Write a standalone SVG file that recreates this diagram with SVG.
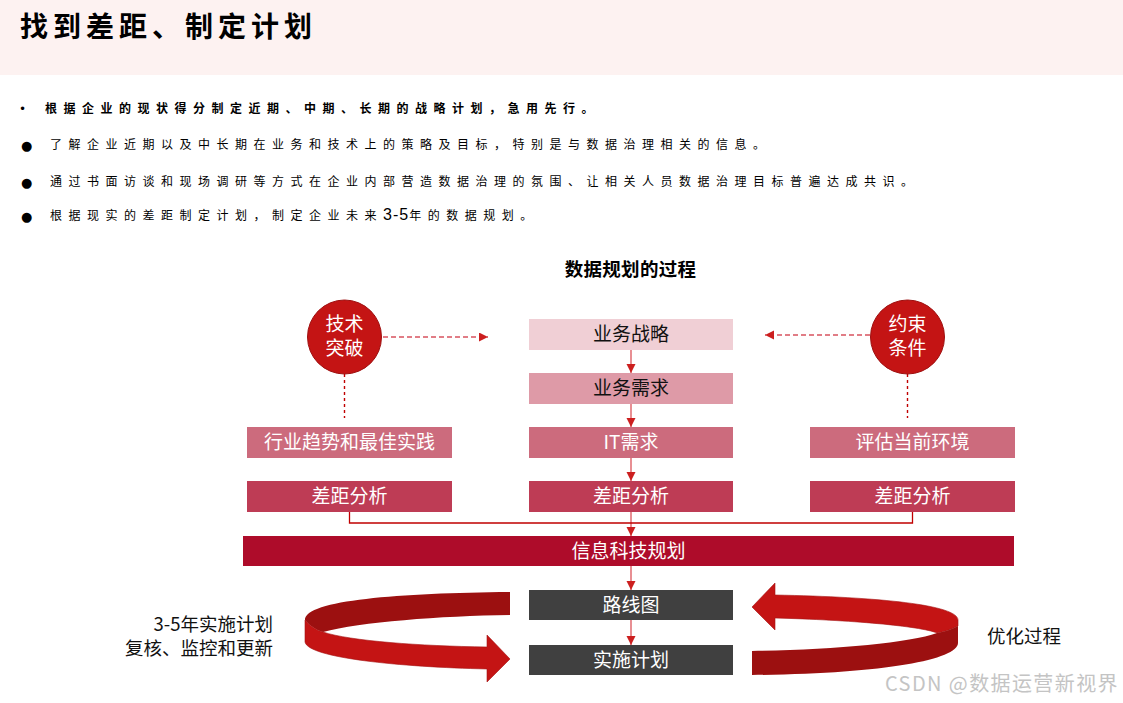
<svg xmlns="http://www.w3.org/2000/svg" width="1123" height="703" viewBox="0 0 1123 703">
<style>
.cjk{font-family:"Noto Sans CJK SC","Liberation Sans",sans-serif}
.bul{font-family:"Noto Sans CJK SC","Liberation Sans",sans-serif;font-size:12px;letter-spacing:6.5px;fill:#000}
.box{font-family:"Noto Sans CJK SC","Liberation Sans",sans-serif;font-size:19px;text-anchor:middle}
.w{fill:#fff}
.k{fill:#111}
.conn{stroke:#e06a6f;stroke-width:1.5;fill:none}
.dashh{stroke:#d8535f;stroke-width:1.5;stroke-dasharray:5,3;fill:none}
.dashv{stroke:#c00000;stroke-width:1.4;stroke-dasharray:3,3;fill:none}
.circ{fill:#c41414;stroke:#9e1010;stroke-width:1}
</style>
<defs>
<marker id="ah" markerUnits="userSpaceOnUse" markerWidth="10" markerHeight="10" refX="9" refY="4.5" orient="auto">
<path d="M0,0 L9,4.5 L0,9 Z" fill="#cc1f1f"/>
</marker>
</defs>
<rect x="0" y="0" width="1123" height="703" fill="#fff"/>
<rect x="0" y="0" width="1123" height="75" fill="#fdf2f1"/>
<text x="20" y="37" class="cjk" font-size="28" font-weight="bold" letter-spacing="5" fill="#000">找到差距、制定计划</text>

<g id="bullets">
<text x="19" y="113" font-family="DejaVu Sans,sans-serif" font-size="12" fill="#000">•</text>
<text x="45" y="113" class="bul" font-weight="bold">根据企业的现状得分制定近期、中期、长期的战略计划，急用先行。</text>
<text x="21" y="150" font-family="DejaVu Sans,sans-serif" font-size="13" fill="#000">●</text>
<text x="50" y="149" class="bul">了解企业近期以及中长期在业务和技术上的策略及目标，特别是与数据治理相关的信息。</text>
<text x="21" y="187" font-family="DejaVu Sans,sans-serif" font-size="13" fill="#000">●</text>
<text x="50" y="186" class="bul">通过书面访谈和现场调研等方式在企业内部营造数据治理的氛围、让相关人员数据治理目标普遍达成共识。</text>
<text x="21" y="221" font-family="DejaVu Sans,sans-serif" font-size="13" fill="#000">●</text>
<text x="50" y="220" class="bul">根据现实的差距制定计划，制定企业未来<tspan font-family="Liberation Sans,sans-serif" font-size="16" letter-spacing="1">3-5</tspan>年的数据规划。</text>
</g>

<text x="630.5" y="276" class="cjk" font-size="18.5" font-weight="bold" text-anchor="middle" letter-spacing="0.3" fill="#000">数据规划的过程</text>

<g id="connectors">
<line x1="631" y1="350" x2="631" y2="373" class="conn" marker-end="url(#ah)"/>
<line x1="631" y1="404" x2="631" y2="427" class="conn" marker-end="url(#ah)"/>
<line x1="631" y1="458" x2="631" y2="481" class="conn" marker-end="url(#ah)"/>
<line x1="631" y1="512" x2="631" y2="536" class="conn" marker-end="url(#ah)"/>
<line x1="631" y1="566" x2="631" y2="590" class="conn" marker-end="url(#ah)"/>
<line x1="631" y1="620" x2="631" y2="645" class="conn" marker-end="url(#ah)"/>
<polyline points="349.5,512 349.5,523 912.5,523 912.5,512" fill="none" stroke="#c00000" stroke-width="1.3"/>
<line x1="383" y1="337" x2="488" y2="337" class="dashh" marker-end="url(#ah)"/>
<line x1="870" y1="335" x2="765" y2="335" class="dashh" marker-end="url(#ah)"/>
<line x1="344.5" y1="374" x2="344.5" y2="418" class="dashv"/>
<line x1="907.5" y1="374" x2="907.5" y2="418" class="dashv"/>
</g>

<g id="n-tech"><circle cx="344.5" cy="337" r="37" class="circ"/>
<text x="344.5" y="331" class="box w" font-size="17.5">技术</text><text x="344.5" y="355" class="box w" font-size="17.5">突破</text></g>
<g id="n-cons"><circle cx="907.5" cy="337" r="37" class="circ"/>
<text x="907.5" y="331" class="box w" font-size="17.5">约束</text><text x="907.5" y="355" class="box w" font-size="17.5">条件</text></g>

<g id="n-bizstrat"><rect x="529" y="319" width="204" height="31" fill="#f0cfd5"/><text x="631" y="341" class="box k">业务战略</text></g>
<g id="n-bizreq"><rect x="529" y="373" width="204" height="31" fill="#de9aa7"/><text x="631" y="395" class="box k">业务需求</text></g>
<g id="n-itreq"><rect x="529" y="427" width="204" height="31" fill="#cc6b7d"/><text x="631" y="449" class="box w">IT需求</text></g>
<g id="n-trend"><rect x="247" y="427" width="205" height="31" fill="#cc6b7d"/><text x="349.5" y="449" class="box w">行业趋势和最佳实践</text></g>
<g id="n-env"><rect x="810" y="427" width="205" height="31" fill="#cc6b7d"/><text x="912.5" y="449" class="box w">评估当前环境</text></g>
<g id="n-gap1"><rect x="247" y="481" width="205" height="31" fill="#be3c55"/><text x="349.5" y="503" class="box w">差距分析</text></g>
<g id="n-gap2"><rect x="529" y="481" width="204" height="31" fill="#be3c55"/><text x="631" y="503" class="box w">差距分析</text></g>
<g id="n-gap3"><rect x="810" y="481" width="205" height="31" fill="#be3c55"/><text x="912.5" y="503" class="box w">差距分析</text></g>
<g id="n-itplan"><rect x="243" y="536" width="771" height="30" fill="#ae0c2a"/><text x="628.5" y="558" class="box w">信息科技规划</text></g>
<g id="n-road"><rect x="529" y="590" width="204" height="30" fill="#404040"/><text x="631" y="612" class="box w">路线图</text></g>
<g id="n-impl"><rect x="529" y="645" width="204" height="30" fill="#404040"/><text x="631" y="667" class="box w">实施计划</text></g>

<g id="ribbon-left">
<path d="M510,592 C400,593 305,600 305,620 C310,626 316,630 323,632 C360,622 440,616 510,615 Z" fill="#9c1010"/>
<path d="M305,620 L305,642 C308,658 400,667 487,669 L487,682 L510,659 L487,635 L487,647 C420,646 350,641 323,632 C316,630 310,626 305,620 Z" fill="#c41414" stroke="#a51010" stroke-width="0.6"/>
</g>
<g id="ribbon-right">
<path d="M752,607 L775,583 L775,595 C880,597 958,605 958,620 L958,626 C950,630 943,632 937,633 C920,626 850,620 775,618 L775,630 Z" fill="#c41414" stroke="#a51010" stroke-width="0.6"/>
<path d="M752,651 C830,650 910,643 937,633 C943,632 950,630 958,626 L958,643 C958,660 880,674 752,675 Z" fill="#9c1010"/>
</g>

<text x="273" y="631" class="cjk" font-size="18.5" text-anchor="end" fill="#111">3-5年实施计划</text>
<text x="273" y="655" class="cjk" font-size="18.5" text-anchor="end" fill="#111">复核、监控和更新</text>
<text x="987" y="643" class="cjk" font-size="18.5" fill="#111">优化过程</text>
<text x="885" y="691" class="cjk" font-size="20" letter-spacing="1.4" fill="#c4c4c4">CSDN @数据运营新视界</text>
</svg>
